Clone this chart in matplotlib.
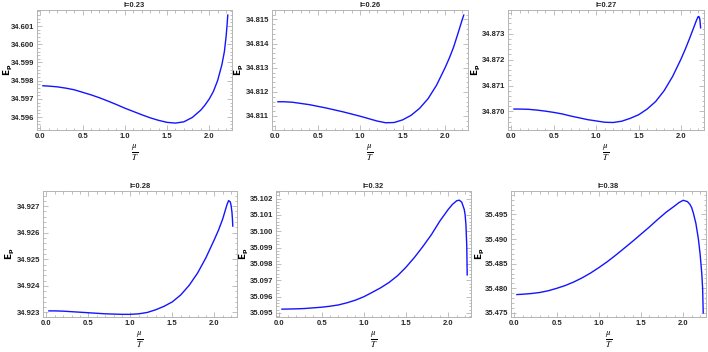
import numpy as np
import matplotlib
matplotlib.use('Agg')
import matplotlib.pyplot as plt
from matplotlib.ticker import MultipleLocator, AutoMinorLocator, FormatStrFormatter

# Datos
titles = ['l=0.23', 'l=0.26', 'l=0.27', 'l=0.28', 'l=0.32', 'l=0.38']

x1 = [0.03, 0.1, 0.2, 0.3, 0.4, 0.5, 0.6, 0.7, 0.8, 0.9, 1.0, 1.1, 1.2, 1.3, 1.4, 1.5, 1.6,
      1.7, 1.8, 1.9, 1.95, 2.0, 2.05, 2.1, 2.15, 2.18, 2.2, 2.21, 2.22]
y1 = [34.59772, 34.59770, 34.59766, 34.59759, 34.59750, 34.59736, 34.59722, 34.59706, 34.59688,
      34.59669, 34.59649, 34.59631, 34.59613, 34.59596, 34.59582, 34.59571, 34.59567, 34.59574,
      34.59598, 34.59638, 34.59666, 34.59699, 34.59741, 34.59801, 34.59887, 34.59960, 34.60042,
      34.60096, 34.60160]

x2 = [0.03, 0.1, 0.2, 0.3, 0.4, 0.5, 0.6, 0.7, 0.8, 0.9, 1.0, 1.1, 1.2, 1.3, 1.4, 1.5, 1.6,
      1.7, 1.8, 1.9, 2.0, 2.05, 2.1, 2.15, 2.2, 2.22]
y2 = [34.81159, 34.81159, 34.81157, 34.81152, 34.81147, 34.81140, 34.81133, 34.81125, 34.81117,
      34.81108, 34.81099, 34.81089, 34.81079, 34.81072, 34.81073, 34.81084, 34.81103, 34.81132,
      34.81172, 34.81228, 34.81300, 34.81340, 34.81385, 34.81440, 34.81497, 34.81518]

x3 = [0.03, 0.1, 0.2, 0.3, 0.4, 0.5, 0.6, 0.7, 0.8, 0.9, 1.0, 1.1, 1.2, 1.3, 1.4, 1.5, 1.6,
      1.7, 1.8, 1.9, 2.0, 2.05, 2.1, 2.15, 2.18, 2.2, 2.21, 2.22, 2.225, 2.23]
y3 = [34.87009, 34.87009, 34.87008, 34.87005, 34.87001, 34.86996, 34.86990, 34.86982, 34.86975,
      34.86968, 34.86963, 34.86958, 34.86957, 34.86962, 34.86973, 34.86987, 34.87009, 34.87038,
      34.87080, 34.87135, 34.87203, 34.87241, 34.87282, 34.87325, 34.87351, 34.87366, 34.87367,
      34.87358, 34.87342, 34.87323]

x4 = [0.03, 0.1, 0.2, 0.3, 0.4, 0.5, 0.6, 0.7, 0.8, 0.9, 1.0, 1.1, 1.2, 1.3, 1.4, 1.5, 1.6,
      1.7, 1.8, 1.9, 2.0, 2.05, 2.1, 2.15, 2.17, 2.19, 2.2, 2.21, 2.215, 2.22]
y4 = [34.92306, 34.92306, 34.92305, 34.92303, 34.92301, 34.92299, 34.92297, 34.92295, 34.92294,
      34.92293, 34.92293, 34.92295, 34.92300, 34.92310, 34.92323, 34.92340, 34.92366, 34.92402,
      34.92448, 34.92506, 34.92574, 34.92610, 34.92652, 34.92705, 34.92721, 34.92716, 34.92702,
      34.92677, 34.92655, 34.92625]

x5 = [0.03, 0.2, 0.3, 0.4, 0.5, 0.6, 0.7, 0.8, 0.9, 1.0, 1.1, 1.2, 1.3, 1.4, 1.5, 1.6, 1.7,
      1.8, 1.9, 2.0, 2.05, 2.1, 2.13, 2.16, 2.19, 2.2, 2.21, 2.22, 2.225]
y5 = [35.09523, 35.09525, 35.09527, 35.09531, 35.09535, 35.09541, 35.09549, 35.09562, 35.09578,
      35.09599, 35.09626, 35.09654, 35.09687, 35.09728, 35.09780, 35.09840, 35.09907, 35.09979,
      35.10062, 35.10134, 35.10165, 35.10187, 35.10191, 35.10179, 35.10134, 35.10103, 35.10041,
      35.09907, 35.09733]

x6 = [0.03, 0.1, 0.2, 0.3, 0.4, 0.5, 0.6, 0.7, 0.8, 0.9, 1.0, 1.1, 1.2, 1.3, 1.4, 1.5, 1.6,
      1.7, 1.8, 1.9, 1.95, 2.0, 2.05, 2.08, 2.1, 2.12, 2.15, 2.18, 2.2, 2.22, 2.23, 2.237]
y6 = [35.47872, 35.47879, 35.47893, 35.47914, 35.47949, 35.47998, 35.48054, 35.48125, 35.48209,
      35.48307, 35.48419, 35.48539, 35.48672, 35.48812, 35.48953, 35.49100, 35.49247, 35.49402,
      35.49549, 35.49675, 35.49742, 35.49788, 35.49762, 35.49705, 35.49640, 35.49530, 35.49320,
      35.49000, 35.48700, 35.48300, 35.48000, 35.47500]

xs = [x1, x2, x3, x4, x5, x6]
ys = [y1, y2, y3, y4, y5, y6]
ylims = [(34.59529, 34.60188), (34.81042, 34.81539), (34.86928, 34.87392),
         (34.92283, 34.92757), (35.09475, 35.10247), (35.47416, 35.49977)]
ysteps = [0.001, 0.001, 0.001, 0.001, 0.001, 0.005]

# posiciones de los marcos en píxeles: (izq, der, arriba, abajo)
W, H = 708, 352
boxes = [(37, 232, 10, 130), (272, 468, 10, 130), (508, 704, 10, 130),
         (43, 237, 191, 317), (276, 471, 191, 317), (511, 706, 191, 317)]
ylab_px = [8, 239, 476, 10, 244, 480]

fig = plt.figure(figsize=(W / 100, H / 100), dpi=100)
frame_c = '#b4b4b4'
tick_font = 'Liberation Sans'

for i in range(6):
    l, r, t, b = boxes[i]
    ax = fig.add_axes([l / W, 1 - b / H, (r - l) / W, (b - t) / H])
    ax.plot(xs[i], ys[i], color='#1414ff', lw=1.0)
    ax.set_xlim(-0.04, 2.27)
    ax.set_ylim(*ylims[i])
    ax.xaxis.set_major_locator(MultipleLocator(0.5))
    ax.xaxis.set_minor_locator(AutoMinorLocator(5))
    ax.yaxis.set_major_locator(MultipleLocator(ysteps[i]))
    ax.yaxis.set_minor_locator(AutoMinorLocator(5))
    ax.xaxis.set_major_formatter(FormatStrFormatter('%.1f'))
    ax.yaxis.set_major_formatter(FormatStrFormatter('%.3f'))
    ax.tick_params(which='both', direction='in', top=True, right=True, color=frame_c,
                   labelsize=5.5, labelcolor='#262626', pad=2, width=0.6)
    ax.tick_params(which='major', length=3.5)
    ax.tick_params(which='minor', length=1.8)
    for lab in ax.get_xticklabels() + ax.get_yticklabels():
        lab.set_fontweight('bold')
        lab.set_family(tick_font)
    for s in ax.spines.values():
        s.set_color(frame_c)
        s.set_linewidth(0.7)
    ax.set_title(titles[i], fontsize=5.4, pad=2, color='#262626',
                 family=tick_font, fontweight='bold')
    ax.set_xlabel(r'$\frac{\mu}{T}$', fontsize=9, labelpad=2, math_fontfamily='stix')
    ax.set_ylabel(r'$\mathbf{E_p}$', fontsize=6.5, va='center')
    ax.yaxis.set_label_coords((ylab_px[i] - l) / (r - l), 0.5)

plt.savefig('out.png', dpi=100)
